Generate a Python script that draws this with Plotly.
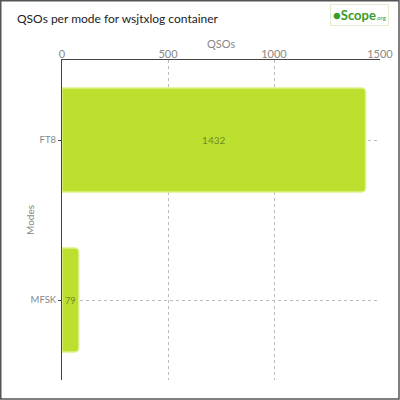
import plotly.graph_objects as go

modes = ["FT8", "MFSK"]
qsos = [1432, 79]
x_ticks = [0, 500, 1000, 1500]

W, H = 400, 400
L, R, T, B = 62, 20, 60, 20
pw, ph = W - L - R, H - T - B

def px(x):
    return (x - L) / pw

def py(y):
    return 1 - (y - T) / ph

fig = go.Figure(go.Bar(
    x=qsos, y=modes, orientation="h",
    marker=dict(color="#bde02f", line=dict(color="#dcf28a", width=1.5), cornerradius=4),
    width=0.65,
    text=[str(v) for v in qsos], textposition="inside", insidetextanchor="middle",
    constraintext="none", textangle=0,
    textfont=dict(color="#6d8a2a", size=10, family="Lato"),
    hoverinfo="skip",
))

fig.update_layout(
    width=W, height=H,
    margin=dict(l=L, r=R, t=T, b=B, autoexpand=False),
    paper_bgcolor="white", plot_bgcolor="white",
    font=dict(family="Lato", color="#888"),
    showlegend=False,
    bargap=0.35,
    title=dict(text="QSOs per mode for wsjtxlog container", x=17 / W, xref="container", xanchor="left",
               y=1 - 19 / H, yref="container", yanchor="middle",
               font=dict(family="Lato", size=12, color="#222")),
    xaxis=dict(side="top", range=[0, 1500], tickvals=x_ticks, automargin=False,
               showline=True, linecolor="#444", linewidth=1,
               ticks="", ticklabelstandoff=-3,
               showgrid=True, gridcolor="#bbb", griddash="3px,3px", gridwidth=1,
               zeroline=False,
               tickfont=dict(size=11, color="#888")),
    yaxis=dict(autorange="reversed", showline=True, linecolor="#444", linewidth=1, automargin=False,
               ticks="outside", ticklen=3, tickcolor="#444",
               showgrid=True, gridcolor="#bbb", griddash="3px,3px",
               tickfont=dict(size=9.5, color="#888")),
    shapes=[dict(type="rect", xref="paper", yref="paper",
                 x0=px(0.75), x1=px(399), y0=py(0.75), y1=py(399),
                 line=dict(color="#555", width=1.5), fillcolor="rgba(0,0,0,0)", layer="above")],
    annotations=[
        dict(xref="paper", yref="paper", x=px(389), y=py(15), xanchor="right", yanchor="middle",
             text="<b>\u25cf</b><b>Scope</b><span style='font-size:6px'>.org</span>",
             showarrow=False, font=dict(family="Lato", size=13, color="#3a9a2a"),
             bordercolor="#e4ecd0", borderwidth=1, borderpad=2, bgcolor="white"),
        dict(xref="paper", yref="paper", x=0.5, y=py(44), xanchor="center", yanchor="middle",
             text="QSOs", showarrow=False, font=dict(family="Lato", size=11, color="#888")),
        dict(xref="paper", yref="paper", x=px(30), y=py(220), xanchor="center", yanchor="middle",
             text="Modes", textangle=-90, showarrow=False, font=dict(family="Lato", size=10, color="#888")),
    ],
)

fig.write_html("out.html", config={"displayModeBar": False},
               post_script="document.body.style.margin='0';document.body.style.overflow='hidden';")
